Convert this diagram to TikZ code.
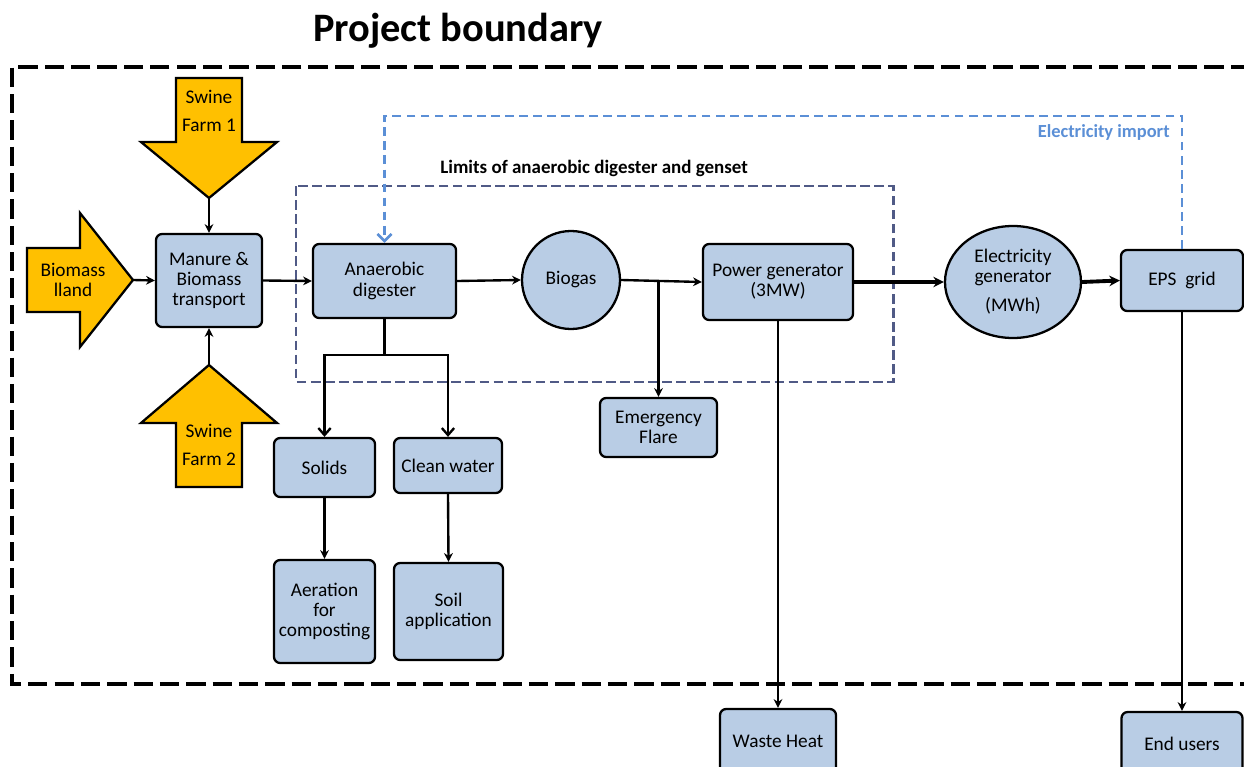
\documentclass[tikz,border=0pt]{standalone}
\usepackage{fontspec}
\setmainfont{Carlito}
\usetikzlibrary{arrows.meta,shapes.geometric}
\definecolor{boxfill}{HTML}{B9CDE5}
\definecolor{farm}{HTML}{FFC000}
\definecolor{limitc}{HTML}{505A86}
\definecolor{importc}{HTML}{5B8FD6}
\newdimen\pxu \pxu=0.02cm
\begin{document}
\begin{tikzpicture}[x=0.02cm,y=-0.02cm,
  box/.style={draw=black,line width=1.3pt,fill=boxfill,rounded corners=3.5pt,inner sep=0pt,align=center,font=\fontsize{11}{11.5}\selectfont},
  roundnode/.style={draw=black,line width=1.3pt,fill=boxfill,inner sep=0pt,align=center,font=\fontsize{11}{11.5}\selectfont},
  farmarrow/.style={draw=black,line width=1.3pt,fill=farm,line join=miter},
  farmtext/.style={align=center,font=\fontsize{11}{16}\selectfont,inner sep=0pt},
  conn/.style={line width=1.35pt,-{Stealth[length=5pt,width=5pt]}},
  thickconn/.style={line width=2.2pt,-{Stealth[length=6pt,width=6pt]}},
  plainline/.style={line width=1.35pt},
  openconn/.style={line width=1.35pt,-{Straight Barb[length=4pt,width=7pt]}},
]
\clip (0,0) rectangle (1244,767);
\fill[white] (0,0) rectangle (1244,767);

% title
\node[font=\bfseries\fontsize{23}{26}\selectfont] (title) at (458,31) {Project boundary};

% outer project boundary
\draw[line width=2.8pt,dash pattern=on 11pt off 4pt] (1250,67) -- (12,67) -- (12,684) -- (1250,684);

% limits box
\draw[limitc,line width=1.7pt,dash pattern=on 5.5pt off 2.5pt] (296,186) rectangle (893,382);
\node[font=\bfseries\fontsize{10.8}{12}\selectfont,anchor=west,inner sep=0pt] (limlabel) at (440,168) {Limits of anaerobic digester and genset};

% yellow input arrows
\draw[farmarrow] (176,78) -- (242,78) -- (242,142) -- (277,142) -- (209,198) -- (141,142) -- (176,142) -- cycle;
\coordinate (sf1tip) at (209,198);
\node[farmtext] (sf1) at (209,111) {Swine\\Farm 1};

\draw[farmarrow] (27,248) -- (80,248) -- (80,213) -- (133,280) -- (80,347) -- (80,312) -- (27,312) -- cycle;
\coordinate (bmtip) at (133,280);
\node[farmtext,font=\fontsize{11}{11.5}\selectfont] (bm) at (73,280) {Biomass\\lland};

\draw[farmarrow] (176,487) -- (242,487) -- (242,423) -- (277,423) -- (209,365) -- (141,423) -- (176,423) -- cycle;
\coordinate (sf2tip) at (209,365);
\node[farmtext] (sf2) at (209,445) {Swine\\Farm 2};

% process nodes
\node[box,minimum width=106*\pxu,minimum height=93*\pxu] (manure) at (209,280.5) {Manure \&\\Biomass\\transport};
\node[box,minimum width=143*\pxu,minimum height=74*\pxu] (ad) at (384.5,281) {Anaerobic\\digester};
\node[roundnode,circle,minimum size=98*\pxu] (biogas) at (571,280) {Biogas};
\node[box,minimum width=150*\pxu,minimum height=76*\pxu] (pg) at (778,282) {Power generator\\(3MW)};
\node[roundnode,ellipse,minimum width=136*\pxu,minimum height=112*\pxu] (eg) at (1013,282) {Electricity\\generator\\[5pt](MWh)};
\node[box,minimum width=122*\pxu,minimum height=61*\pxu] (eps) at (1182,280.5) {EPS\ \ grid};
\node[box,minimum width=117*\pxu,minimum height=59*\pxu] (flare) at (658.5,427.5) {Emergency\\Flare};
\node[box,minimum width=101*\pxu,minimum height=59*\pxu] (solids) at (324.5,467.5) {Solids};
\node[box,minimum width=108*\pxu,minimum height=55*\pxu] (clean) at (448,465.5) {Clean water};
\node[box,minimum width=101*\pxu,minimum height=103*\pxu] (aer) at (324.5,611.5) {Aeration\\for\\composting};
\node[box,minimum width=109*\pxu,minimum height=97*\pxu] (soil) at (448.5,611.5) {Soil\\application};
\node[box,minimum width=116*\pxu,minimum height=64*\pxu] (waste) at (778,741) {Waste Heat};
\node[box,minimum width=121*\pxu,minimum height=64*\pxu] (endu) at (1182,744) {End users};

% electricity import
\coordinate (imptop) at (1182,116);
\draw[importc,line width=1.5pt,dash pattern=on 5pt off 3pt,-{Straight Barb[length=4pt,width=8pt]}]
  (eps.north) -- (eps.north |- imptop) -| (ad.north);
\node[importc,font=\bfseries\fontsize{10.5}{12}\selectfont,anchor=east,inner sep=0pt] (implabel) at (1170,132) {Electricity import};

% connectors
\draw[conn] (sf1tip) -- (manure.north);
\draw[conn] (sf2tip) -- (manure.south);
\draw[conn] (bmtip) -- (manure.west);
\draw[conn] (manure.east) -- (ad.west);
\draw[conn] (ad.east) -- (biogas.west);
\draw[conn] (biogas.east) -- (pg.west);
\coordinate (fj) at (658.5,280);
\draw[conn] (fj) -- (flare.north);
\draw[thickconn] (pg.east) -- (eg.west);
\draw[thickconn] (eg.east) -- (eps.west);
\draw[conn] (eps.south) -- (endu.north);
\draw[conn] (pg.south) -- (waste.north);
\coordinate (br) at (384.5,355);
\draw[plainline] (ad.south) -- (br);
\draw[openconn] (br) -| (solids.north);
\draw[openconn] (br) -| (clean.north);
\draw[conn] (solids.south) -- (aer.north);
\draw[conn] (clean.south) -- (soil.north);
\end{tikzpicture}
\end{document}
